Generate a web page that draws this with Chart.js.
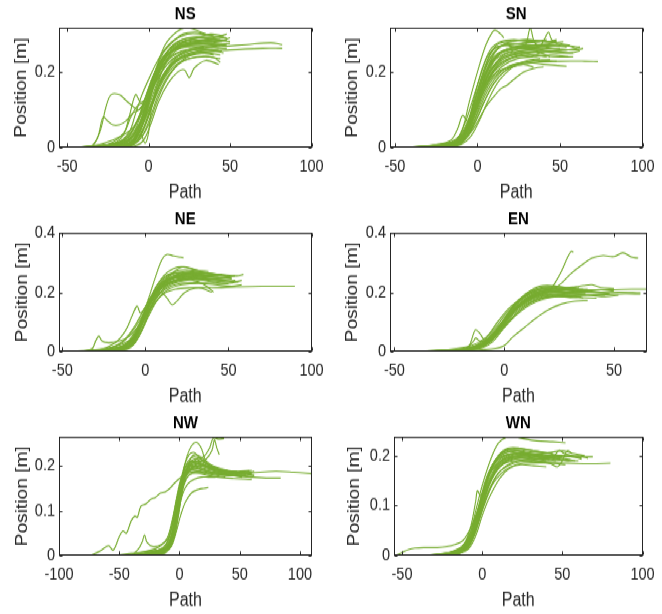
<!DOCTYPE html>
<html>
<head>
<meta charset="utf-8">
<script src="https://cdn.jsdelivr.net/npm/chart.js@4"></script>
<style>
  html, body { margin: 0; padding: 0; background: #fff; }
  #fig { position: absolute; left: 0; top: 0; width: 662px; height: 512px;
         transform: scaleY(1.2); transform-origin: 0 0; }
  #fig canvas { position: absolute; }
</style>
</head>
<body>
<div id="fig"></div>
<script>
// ---- data: each curve is a list of [path, position] points ----
const nsCurves = [
  [[-55,0],[-40,0.001],[-25,0.003],[-15,0.01],[-8,0.04],[-3,0.09],[2,0.15],[8,0.2],[15,0.235],[25,0.255],[40,0.265],[60,0.272],[75,0.277],[82,0.272]],
  [[-50,0],[-30,0.002],[-15,0.008],[-7,0.03],[-2,0.08],[3,0.13],[10,0.19],[18,0.23],[30,0.25],[50,0.258],[70,0.262],[82,0.262]],
  [[-45,0],[-25,0.002],[-12,0.01],[-6,0.05],[-1,0.12],[4,0.2],[10,0.27],[17,0.305],[23,0.317],[28,0.312],[35,0.3]],
  [[-48,0],[-35,0.005],[-30,0.04],[-26,0.11],[-23,0.14],[-18,0.14],[-14,0.125],[-10,0.11],[-6,0.1],[-3,0.12],[2,0.17],[8,0.22],[15,0.26],[25,0.28],[35,0.285],[47,0.29]],
  [[-45,0],[-35,0.003],[-31,0.03],[-28,0.08],[-25,0.07],[-22,0.06],[-18,0.06],[-14,0.07],[-10,0.09],[-6,0.1],[-2,0.12],[3,0.18],[10,0.24],[20,0.27],[30,0.275],[44,0.27]],
  [[-40,0],[-25,0.005],[-16,0.03],[-12,0.08],[-8,0.14],[-5,0.12],[-2,0.13],[2,0.18],[8,0.23],[15,0.26],[25,0.275],[38,0.28],[48,0.282]],
  [[-38,0],[-20,0.005],[-10,0.03],[-6,0.06],[-4,0.03],[-2,0.012],[0,0.04],[2,0.11],[6,0.17],[12,0.21],[20,0.235],[30,0.25],[45,0.255]],
  [[-42,0],[-20,0.002],[-8,0.005],[-3,0.02],[2,0.07],[6,0.12],[12,0.17],[18,0.2],[22,0.205],[25,0.185],[28,0.21],[35,0.23],[43,0.22]],
  [[-50,0],[-30,0.003],[-12,0.01],[-6,0.04],[-2,0.09],[3,0.16],[8,0.21],[14,0.25],[22,0.27],[35,0.28],[48,0.285]],
  [[-35,0],[-18,0.004],[-10,0.02],[-5,0.06],[0,0.12],[5,0.19],[11,0.24],[18,0.265],[28,0.28],[40,0.29],[48,0.3]],
  [[-30,0],[-15,0.003],[-8,0.015],[-3,0.05],[2,0.11],[7,0.17],[14,0.22],[22,0.245],[32,0.255],[43,0.26]],
  [[-48,0],[-30,0.004],[-18,0.01],[-10,0.03],[-5,0.07],[0,0.13],[6,0.2],[12,0.255],[18,0.28],[25,0.29],[35,0.29],[46,0.295]],
  [[-40,0],[-22,0.002],[-10,0.006],[-4,0.03],[1,0.08],[6,0.14],[12,0.19],[20,0.225],[30,0.24],[40,0.238],[44,0.225]],
  [[-55,0],[-38,0.001],[-20,0.004],[-10,0.015],[-4,0.06],[1,0.13],[6,0.2],[12,0.245],[20,0.265],[30,0.27],[42,0.268]],
  [[-33,0],[-20,0.01],[-12,0.04],[-8,0.09],[-4,0.14],[0,0.18],[5,0.225],[10,0.26],[16,0.285],[24,0.3],[32,0.3],[40,0.295]],
  [[-44,0],[-28,0.005],[-16,0.015],[-9,0.03],[-4,0.07],[1,0.14],[7,0.21],[14,0.255],[24,0.27],[36,0.275],[48,0.27]],
  [[-36,0],[-24,0.01],[-15,0.04],[-11,0.08],[-7,0.11],[-3,0.12],[1,0.16],[6,0.21],[13,0.25],[22,0.265],[34,0.265]],
  [[-52,0],[-35,0.002],[-15,0.006],[-6,0.02],[0,0.06],[5,0.12],[10,0.17],[16,0.21],[24,0.24],[34,0.25],[44,0.245]],
  [[-28,0],[-14,0.005],[-7,0.02],[-2,0.06],[3,0.12],[8,0.18],[15,0.23],[22,0.25],[30,0.26],[38,0.258]],
  [[-46,0],[-26,0.004],[-14,0.012],[-7,0.05],[-2,0.11],[4,0.19],[10,0.245],[16,0.275],[24,0.29],[36,0.295],[48,0.29]],
  [[-40,0],[-22,0.01],[-13,0.025],[-8,0.06],[-3,0.1],[2,0.15],[8,0.2],[15,0.235],[25,0.26],[37,0.27],[50,0.275]],
  [[-35,0],[-20,0.003],[-9,0.01],[-4,0.04],[0,0.09],[5,0.16],[11,0.23],[18,0.27],[26,0.285],[36,0.28],[45,0.28]],
  [[-42,0],[-28,0.006],[-18,0.015],[-11,0.04],[-6,0.08],[-2,0.13],[3,0.19],[9,0.24],[16,0.27],[24,0.285],[34,0.29],[44,0.285]],
  [[-38,0],[-24,0.003],[-14,0.008],[-8,0.025],[-3,0.065],[2,0.12],[7,0.17],[13,0.21],[20,0.24],[30,0.255],[42,0.26],[48,0.262]],
  [[-30,0],[-18,0.004],[-10,0.012],[-5,0.045],[-1,0.1],[4,0.17],[9,0.225],[15,0.26],[22,0.28],[30,0.29],[38,0.3],[46,0.295]],
  [[-46,0],[-32,0.006],[-22,0.02],[-15,0.035],[-10,0.05],[-6,0.08],[-2,0.12],[3,0.17],[9,0.215],[16,0.245],[26,0.26],[38,0.265],[48,0.275]],
  [[-36,0],[-22,0.004],[-12,0.01],[-6,0.03],[-1,0.075],[4,0.13],[10,0.185],[17,0.22],[25,0.235],[35,0.24],[44,0.235]],
  [[-50,0],[-35,0.004],[-20,0.012],[-12,0.03],[-7,0.07],[-3,0.12],[1,0.17],[6,0.22],[12,0.255],[20,0.275],[30,0.28],[40,0.285],[50,0.28]],
  [[-26,0],[-14,0.006],[-8,0.03],[-4,0.08],[0,0.14],[4,0.2],[9,0.25],[15,0.28],[21,0.3],[28,0.305],[35,0.3]],
  [[-44,0],[-30,0.005],[-20,0.01],[-13,0.02],[-8,0.05],[-4,0.095],[1,0.15],[6,0.2],[12,0.235],[20,0.255],[28,0.26],[38,0.258],[46,0.25]],
  [[-34,0],[-20,0.003],[-11,0.008],[-5,0.03],[0,0.085],[5,0.15],[10,0.2],[16,0.23],[24,0.245],[32,0.25],[40,0.245]],
  [[-48,0],[-30,0.004],[-17,0.01],[-9,0.025],[-4,0.06],[1,0.12],[7,0.19],[13,0.24],[20,0.265],[30,0.275],[42,0.278],[50,0.29]]
];

const snCurves = [
  [[-43,0],[-30,0.002],[-18,0.008],[-11,0.02],[-6,0.06],[-1,0.12],[5,0.17],[12,0.2],[22,0.215],[35,0.225],[50,0.228],[65,0.228],[73,0.227]],
  [[-40,0],[-25,0.005],[-14,0.015],[-9,0.05],[-5,0.12],[0,0.2],[5,0.27],[9,0.305],[11,0.31],[14,0.3],[16,0.29]],
  [[-42,0],[-26,0.004],[-14,0.012],[-8,0.04],[-3,0.1],[2,0.17],[8,0.22],[15,0.245],[24,0.26],[29,0.27],[32,0.315],[35,0.275],[42,0.265],[50,0.26],[60,0.258],[64,0.262]],
  [[-38,0],[-20,0.006],[-11,0.02],[-6,0.06],[-1,0.12],[4,0.19],[10,0.24],[18,0.26],[28,0.265],[38,0.27],[41,0.29],[43,0.305],[45,0.285],[50,0.27],[56,0.268],[60,0.26]],
  [[-45,0],[-28,0.003],[-15,0.01],[-9,0.03],[-4,0.08],[1,0.14],[7,0.2],[14,0.235],[24,0.25],[36,0.255],[48,0.25],[58,0.25]],
  [[-35,0],[-20,0.005],[-12,0.015],[-7,0.05],[-2,0.12],[3,0.19],[9,0.245],[16,0.27],[26,0.275],[36,0.28],[48,0.28]],
  [[-40,0],[-25,0.008],[-16,0.02],[-12,0.05],[-9,0.085],[-6,0.07],[-3,0.09],[1,0.13],[6,0.18],[13,0.22],[22,0.24],[32,0.245],[42,0.24]],
  [[-38,0],[-22,0.004],[-12,0.01],[-6,0.03],[-1,0.06],[4,0.1],[9,0.13],[14,0.155],[18,0.165],[22,0.18],[28,0.2],[35,0.21],[40,0.213]],
  [[-44,0],[-30,0.002],[-15,0.008],[-10,0.03],[-6,0.03],[-2,0.07],[3,0.13],[9,0.18],[17,0.21],[27,0.225],[40,0.22],[54,0.215]],
  [[-30,0],[-18,0.005],[-11,0.015],[-5,0.05],[0,0.11],[5,0.18],[11,0.235],[18,0.26],[28,0.27],[40,0.268],[52,0.27],[62,0.265]],
  [[-42,0],[-24,0.006],[-12,0.012],[-7,0.04],[-2,0.1],[3,0.16],[9,0.21],[16,0.24],[26,0.255],[38,0.26],[50,0.262]],
  [[-32,0],[-18,0.004],[-10,0.01],[-5,0.045],[-1,0.11],[4,0.2],[8,0.25],[13,0.275],[20,0.28],[30,0.285],[42,0.28],[48,0.285]],
  [[-36,0],[-22,0.006],[-13,0.015],[-8,0.04],[-3,0.085],[2,0.14],[8,0.19],[15,0.225],[24,0.24],[34,0.245],[46,0.24],[58,0.24]],
  [[-40,0],[-25,0.003],[-12,0.008],[-6,0.03],[0,0.08],[5,0.13],[10,0.17],[16,0.2],[22,0.215],[28,0.22],[34,0.212]],
  [[-28,0],[-16,0.006],[-9,0.02],[-4,0.07],[1,0.14],[6,0.21],[12,0.26],[20,0.28],[30,0.285],[40,0.28],[50,0.275],[56,0.27]],
  [[-44,0],[-30,0.004],[-18,0.012],[-10,0.025],[-5,0.065],[0,0.13],[6,0.2],[13,0.245],[22,0.26],[34,0.265],[46,0.26],[54,0.258]],
  [[-34,0],[-20,0.005],[-11,0.012],[-6,0.035],[-1,0.09],[4,0.15],[10,0.2],[18,0.23],[26,0.245],[32,0.24],[38,0.25],[44,0.24]],
  [[-38,0],[-24,0.006],[-13,0.02],[-8,0.06],[-4,0.11],[1,0.18],[6,0.24],[11,0.265],[18,0.27],[28,0.275],[38,0.28]],
  [[-45,0],[-28,0.005],[-14,0.012],[-7,0.035],[-2,0.09],[3,0.155],[9,0.21],[16,0.245],[25,0.255],[35,0.26],[45,0.255],[58,0.26],[62,0.265]],
  [[-30,0],[-18,0.003],[-10,0.008],[-4,0.03],[1,0.07],[6,0.12],[12,0.17],[18,0.2],[24,0.22],[30,0.23],[38,0.235]],
  [[-36,0],[-22,0.004],[-12,0.01],[-7,0.04],[-3,0.1],[2,0.17],[7,0.23],[13,0.265],[20,0.275],[30,0.27],[40,0.272],[50,0.268]],
  [[-42,0],[-26,0.004],[-14,0.01],[-8,0.03],[-3,0.075],[2,0.13],[8,0.18],[15,0.215],[24,0.235],[34,0.24],[44,0.245],[55,0.24]],
  [[-28,0],[-17,0.005],[-10,0.02],[-6,0.06],[-2,0.13],[3,0.21],[8,0.26],[14,0.28],[22,0.285],[32,0.28],[42,0.285]],
  [[-40,0],[-25,0.006],[-14,0.015],[-8,0.045],[-3,0.095],[2,0.15],[8,0.2],[14,0.23],[22,0.245],[32,0.25],[44,0.255],[56,0.25],[62,0.255]],
  [[-33,0],[-20,0.004],[-11,0.01],[-6,0.03],[-1,0.07],[4,0.12],[10,0.17],[16,0.2],[24,0.22],[34,0.23],[44,0.232]],
  [[-44,0],[-28,0.005],[-16,0.015],[-10,0.035],[-5,0.08],[0,0.15],[5,0.22],[10,0.26],[16,0.27],[24,0.265],[34,0.27],[46,0.27],[54,0.265]],
  [[-38,0],[-23,0.003],[-13,0.01],[-7,0.035],[-2,0.085],[3,0.145],[9,0.2],[16,0.235],[26,0.25],[36,0.252],[48,0.255]],
  [[-30,0],[-18,0.006],[-10,0.018],[-5,0.055],[0,0.12],[5,0.19],[10,0.235],[16,0.255],[24,0.26],[32,0.262],[40,0.26]],
  [[-46,0],[-30,0.003],[-16,0.008],[-9,0.02],[-4,0.05],[1,0.1],[6,0.15],[12,0.19],[19,0.215],[28,0.225],[38,0.23],[48,0.228]],
  [[-35,0],[-21,0.005],[-12,0.015],[-6,0.05],[-1,0.11],[4,0.18],[9,0.23],[15,0.255],[23,0.265],[33,0.27],[45,0.275],[52,0.28]]
];

const neCurves = [
  [[-48,0],[-35,0.003],[-20,0.008],[-12,0.02],[-6,0.05],[-1,0.1],[4,0.15],[10,0.19],[18,0.21],[28,0.215],[40,0.215],[55,0.218],[70,0.22],[90,0.22]],
  [[-40,0],[-25,0.004],[-14,0.01],[-8,0.04],[-3,0.1],[2,0.18],[6,0.25],[10,0.31],[13,0.327],[17,0.322],[21,0.318],[23,0.316]],
  [[-42,0],[-28,0.005],[-18,0.03],[-12,0.07],[-8,0.12],[-5,0.153],[-3,0.13],[0,0.15],[5,0.2],[12,0.24],[20,0.255],[30,0.26],[40,0.255]],
  [[-38,0],[-32,0.01],[-30,0.035],[-28,0.052],[-26,0.035],[-22,0.03],[-16,0.035],[-10,0.05],[-5,0.08],[0,0.13],[6,0.19],[13,0.23],[22,0.245],[32,0.25],[46,0.258]],
  [[-45,0],[-30,0.004],[-16,0.012],[-9,0.035],[-4,0.08],[1,0.14],[7,0.2],[14,0.24],[22,0.26],[32,0.265],[45,0.26],[55,0.255],[59,0.26]],
  [[-35,0],[-20,0.005],[-11,0.02],[-6,0.06],[-1,0.12],[4,0.17],[9,0.2],[13,0.18],[16,0.158],[19,0.17],[24,0.2],[32,0.215],[40,0.2]],
  [[-50,0],[-35,0.002],[-18,0.006],[-10,0.015],[-5,0.05],[0,0.12],[6,0.19],[12,0.24],[18,0.27],[24,0.275],[32,0.27],[42,0.26],[50,0.255]],
  [[-30,0],[-18,0.004],[-10,0.015],[-5,0.06],[0,0.13],[5,0.2],[11,0.255],[17,0.28],[23,0.285],[30,0.275],[38,0.27]],
  [[-40,0],[-24,0.006],[-13,0.02],[-7,0.05],[-2,0.1],[3,0.16],[9,0.21],[16,0.235],[26,0.245],[38,0.24],[50,0.235],[54,0.24]],
  [[-36,0],[-22,0.01],[-14,0.03],[-9,0.06],[-4,0.1],[1,0.15],[7,0.2],[14,0.23],[22,0.245],[32,0.235],[38,0.215],[41,0.2]],
  [[-44,0],[-28,0.005],[-15,0.015],[-8,0.04],[-3,0.09],[2,0.15],[8,0.21],[15,0.25],[24,0.265],[34,0.26],[44,0.255]],
  [[-33,0],[-20,0.008],[-12,0.025],[-7,0.06],[-2,0.11],[3,0.17],[9,0.22],[16,0.245],[25,0.25],[36,0.245],[48,0.24]],
  [[-46,0],[-30,0.003],[-15,0.008],[-8,0.02],[-3,0.06],[2,0.12],[8,0.18],[14,0.21],[22,0.225],[32,0.23],[42,0.225],[52,0.22],[58,0.225]],
  [[-38,0],[-22,0.004],[-12,0.012],[-6,0.045],[-1,0.11],[4,0.18],[10,0.24],[16,0.265],[22,0.285],[28,0.28],[36,0.265],[44,0.26]],
  [[-28,0],[-16,0.005],[-9,0.02],[-4,0.07],[1,0.14],[6,0.2],[12,0.235],[20,0.25],[30,0.255],[42,0.25],[52,0.245]],
  [[-42,0],[-26,0.006],[-16,0.015],[-10,0.03],[-5,0.07],[0,0.13],[6,0.19],[13,0.225],[21,0.24],[30,0.245],[40,0.235],[50,0.23],[58,0.24]],
  [[-34,0],[-20,0.003],[-10,0.01],[-5,0.04],[0,0.1],[5,0.17],[11,0.225],[18,0.25],[27,0.26],[37,0.255],[46,0.26]],
  [[-40,0],[-26,0.005],[-15,0.015],[-8,0.045],[-3,0.1],[2,0.16],[8,0.215],[15,0.245],[23,0.255],[33,0.25],[43,0.245],[52,0.25]],
  [[-30,0],[-18,0.006],[-10,0.02],[-5,0.065],[0,0.135],[5,0.195],[10,0.235],[16,0.26],[24,0.27],[34,0.265],[42,0.26]],
  [[-44,0],[-30,0.004],[-18,0.01],[-10,0.025],[-5,0.06],[0,0.115],[6,0.175],[12,0.21],[20,0.228],[30,0.232],[40,0.23],[50,0.228]],
  [[-36,0],[-22,0.006],[-12,0.018],[-7,0.05],[-2,0.11],[3,0.175],[9,0.225],[15,0.25],[22,0.26],[30,0.258],[38,0.255]],
  [[-48,0],[-34,0.004],[-22,0.012],[-14,0.025],[-8,0.045],[-3,0.085],[2,0.14],[8,0.195],[15,0.225],[24,0.24],[36,0.245],[48,0.24],[56,0.235]],
  [[-26,0],[-15,0.005],[-8,0.025],[-4,0.075],[1,0.15],[6,0.215],[11,0.25],[17,0.265],[24,0.262],[32,0.255]],
  [[-38,0],[-24,0.008],[-16,0.025],[-11,0.05],[-6,0.09],[-1,0.14],[4,0.19],[10,0.225],[18,0.24],[28,0.245],[38,0.24]],
  [[-42,0],[-28,0.003],[-14,0.008],[-7,0.03],[-2,0.08],[3,0.14],[9,0.2],[16,0.235],[24,0.25],[34,0.255],[44,0.25],[54,0.255]]
];

const enCurves = [
  [[-44,0],[-30,0.003],[-18,0.01],[-10,0.03],[-4,0.07],[1,0.11],[6,0.15],[12,0.18],[17,0.195],[20,0.2],[23,0.23],[26,0.27],[29,0.32],[30.5,0.338],[31.5,0.335]],
  [[-40,0],[-25,0.004],[-14,0.012],[-8,0.04],[-2,0.09],[4,0.14],[10,0.18],[16,0.2],[22,0.21],[26,0.23],[30,0.26],[35,0.29],[40,0.315],[45,0.323],[50,0.32],[54,0.333],[58,0.318],[61,0.315]],
  [[-46,0],[-30,0.002],[-18,0.006],[-10,0.02],[-5,0.05],[0,0.1],[6,0.15],[12,0.185],[18,0.2],[26,0.205],[36,0.208],[48,0.208],[58,0.21],[65,0.21]],
  [[-38,0],[-24,0.004],[-14,0.01],[-7,0.03],[-2,0.07],[3,0.11],[9,0.15],[15,0.175],[22,0.185],[32,0.19],[45,0.192],[55,0.195],[62,0.194]],
  [[-30,0],[-20,0.005],[-16,0.02],[-14,0.06],[-13,0.074],[-11,0.06],[-9,0.04],[-6,0.05],[-2,0.08],[3,0.13],[9,0.17],[15,0.2],[22,0.21],[30,0.21]],
  [[-28,0],[-18,0.008],[-14,0.035],[-13,0.046],[-11,0.035],[-7,0.04],[-3,0.07],[2,0.12],[8,0.16],[14,0.19],[22,0.205],[32,0.21],[38,0.21]],
  [[-35,0],[-20,0.003],[-10,0.006],[-4,0.01],[0,0.02],[4,0.05],[9,0.08],[14,0.11],[20,0.14],[26,0.16],[32,0.17],[38,0.172]],
  [[-42,0],[-28,0.004],[-16,0.012],[-9,0.04],[-4,0.08],[1,0.13],[7,0.175],[13,0.205],[18,0.218],[24,0.22],[30,0.215],[36,0.222],[40,0.225],[44,0.215],[50,0.212]],
  [[-36,0],[-22,0.005],[-12,0.015],[-6,0.045],[-1,0.1],[4,0.15],[10,0.19],[16,0.21],[22,0.215],[30,0.212],[36,0.21]],
  [[-32,0],[-18,0.004],[-10,0.012],[-5,0.035],[0,0.08],[5,0.12],[11,0.155],[17,0.175],[24,0.185],[30,0.182],[35,0.185]],
  [[-40,0],[-26,0.006],[-15,0.02],[-8,0.05],[-3,0.1],[2,0.145],[8,0.18],[14,0.2],[20,0.207],[28,0.2],[36,0.205],[42,0.2]],
  [[-30,0],[-18,0.006],[-9,0.02],[-4,0.06],[1,0.11],[6,0.16],[12,0.195],[18,0.212],[25,0.21],[32,0.205],[38,0.2]],
  [[-44,0],[-28,0.004],[-16,0.01],[-9,0.03],[-4,0.065],[1,0.11],[7,0.155],[13,0.18],[20,0.192],[28,0.195],[36,0.2],[45,0.198],[52,0.2],[62,0.198]],
  [[-34,0],[-20,0.005],[-11,0.015],[-6,0.04],[-1,0.09],[5,0.145],[11,0.185],[17,0.205],[23,0.21],[30,0.205],[35,0.2]],
  [[-38,0],[-24,0.003],[-13,0.01],[-7,0.03],[-2,0.07],[3,0.12],[9,0.165],[15,0.19],[22,0.2],[30,0.195],[37,0.195]],
  [[-26,0],[-16,0.006],[-9,0.025],[-5,0.06],[0,0.11],[5,0.16],[11,0.2],[16,0.22],[22,0.222],[28,0.215],[33,0.218]],
  [[-42,0],[-26,0.004],[-14,0.012],[-7,0.035],[-2,0.08],[3,0.125],[9,0.16],[15,0.18],[22,0.19],[30,0.188],[38,0.19],[46,0.185],[52,0.19]],
  [[-36,0],[-22,0.005],[-13,0.015],[-7,0.04],[-2,0.085],[3,0.13],[9,0.17],[15,0.195],[22,0.205],[30,0.2],[38,0.205],[44,0.2]],
  [[-40,0],[-26,0.004],[-15,0.012],[-8,0.035],[-3,0.075],[2,0.12],[8,0.16],[14,0.185],[21,0.195],[28,0.19],[36,0.192],[46,0.19]],
  [[-28,0],[-17,0.006],[-9,0.025],[-4,0.065],[1,0.12],[6,0.17],[12,0.205],[18,0.215],[25,0.212],[32,0.21],[40,0.205]],
  [[-44,0],[-30,0.003],[-17,0.01],[-10,0.025],[-5,0.055],[0,0.1],[6,0.145],[12,0.175],[19,0.19],[27,0.195],[36,0.2],[44,0.2],[50,0.205]],
  [[-32,0],[-19,0.005],[-10,0.015],[-5,0.045],[0,0.095],[5,0.14],[11,0.175],[17,0.195],[24,0.2],[32,0.198],[40,0.2],[48,0.195]],
  [[-38,0],[-24,0.004],[-13,0.012],[-7,0.03],[-2,0.065],[3,0.11],[9,0.15],[15,0.175],[22,0.188],[30,0.19],[36,0.18]],
  [[-30,0],[-18,0.005],[-10,0.018],[-5,0.05],[0,0.105],[5,0.155],[11,0.195],[17,0.21],[24,0.215],[30,0.21],[34,0.215]],
  [[-46,0],[-32,0.003],[-20,0.008],[-12,0.02],[-6,0.045],[-1,0.085],[4,0.125],[10,0.16],[17,0.18],[25,0.185],[34,0.182],[42,0.18]]
];

const nwCurves = [
  [[-74,0],[-66,0.01],[-59,0.022],[-55,0.012],[-50,0.042],[-47,0.055],[-44,0.05],[-40,0.078],[-37,0.088],[-35,0.085],[-32,0.11],[-28,0.115],[-24,0.125],[-20,0.13],[-16,0.139],[-12,0.142],[-8,0.15],[-4,0.162],[0,0.172],[4,0.18],[8,0.19],[14,0.2],[20,0.2],[28,0.19],[36,0.185],[45,0.18],[55,0.18]],
  [[-54,0],[-40,0.005],[-25,0.01],[-15,0.015],[-9,0.03],[-5,0.07],[-1,0.13],[3,0.17],[8,0.185],[15,0.185],[25,0.183],[40,0.182],[60,0.185],[80,0.188],[95,0.186],[110,0.183]],
  [[-45,0],[-30,0.004],[-20,0.01],[-12,0.02],[-7,0.06],[-3,0.12],[1,0.17],[6,0.2],[12,0.2],[20,0.19],[30,0.185],[45,0.178],[60,0.175],[75,0.173],[84,0.173]],
  [[-40,0],[-34,0.015],[-31,0.03],[-29,0.046],[-27,0.03],[-22,0.02],[-15,0.025],[-10,0.04],[-6,0.08],[-2,0.13],[2,0.17],[7,0.195],[14,0.2],[22,0.19],[35,0.18],[50,0.178],[62,0.18]],
  [[-30,0],[-18,0.005],[-10,0.015],[-6,0.05],[-2,0.11],[2,0.17],[6,0.22],[10,0.245],[14,0.253],[18,0.24],[22,0.21],[28,0.195],[38,0.19],[50,0.185],[60,0.18]],
  [[-25,0],[-15,0.005],[-8,0.02],[-4,0.06],[0,0.12],[4,0.17],[8,0.2],[14,0.215],[20,0.22],[25,0.24],[28,0.262],[32,0.26],[37,0.261]],
  [[-35,0],[-20,0.006],[-12,0.015],[-7,0.04],[-3,0.09],[1,0.15],[5,0.19],[10,0.205],[16,0.21],[22,0.215],[27,0.235],[29,0.258],[31,0.24],[33,0.225]],
  [[-38,0],[-24,0.004],[-14,0.01],[-8,0.03],[-4,0.07],[0,0.13],[4,0.175],[9,0.195],[16,0.2],[25,0.195],[35,0.19],[48,0.185],[60,0.19]],
  [[-28,0],[-16,0.006],[-9,0.02],[-5,0.05],[-1,0.1],[3,0.14],[7,0.16],[12,0.17],[18,0.175],[24,0.175],[30,0.175]],
  [[-32,0],[-20,0.004],[-12,0.01],[-7,0.02],[-3,0.05],[1,0.09],[5,0.12],[10,0.14],[16,0.148],[20,0.15],[24,0.152]],
  [[-42,0],[-28,0.006],[-18,0.012],[-10,0.02],[-6,0.045],[-2,0.1],[2,0.16],[6,0.195],[11,0.21],[18,0.205],[28,0.195],[40,0.185],[52,0.183]],
  [[-20,0],[-12,0.005],[-6,0.025],[-2,0.07],[2,0.14],[6,0.19],[10,0.22],[14,0.225],[20,0.215],[28,0.2],[40,0.19],[55,0.185],[62,0.188]],
  [[-36,0],[-22,0.005],[-14,0.01],[-8,0.025],[-4,0.065],[0,0.12],[4,0.16],[8,0.18],[14,0.185],[22,0.18],[32,0.175],[45,0.172],[60,0.17]],
  [[-26,0],[-16,0.004],[-9,0.015],[-5,0.04],[-1,0.1],[3,0.16],[7,0.2],[12,0.215],[18,0.21],[26,0.2],[36,0.19],[48,0.188],[58,0.19]],
  [[-48,0],[-32,0.003],[-20,0.008],[-12,0.015],[-7,0.03],[-3,0.08],[1,0.14],[5,0.18],[10,0.19],[18,0.188],[30,0.182],[44,0.178],[55,0.18]],
  [[-22,0],[-13,0.006],[-7,0.03],[-3,0.09],[1,0.16],[4,0.2],[8,0.225],[12,0.23],[16,0.22],[22,0.205],[30,0.195],[40,0.19]],
  [[-34,0],[-22,0.005],[-13,0.012],[-8,0.03],[-4,0.075],[0,0.14],[4,0.19],[9,0.21],[15,0.205],[24,0.195],[34,0.188],[46,0.185],[58,0.185]],
  [[-44,0],[-30,0.004],[-18,0.01],[-10,0.02],[-6,0.05],[-2,0.11],[2,0.165],[6,0.19],[12,0.195],[20,0.19],[30,0.185],[42,0.18],[52,0.175]],
  [[-24,0],[-15,0.006],[-8,0.025],[-4,0.07],[0,0.135],[4,0.18],[9,0.2],[15,0.205],[22,0.2],[32,0.19],[44,0.185],[56,0.182],[62,0.178]],
  [[-38,0],[-25,0.004],[-15,0.01],[-9,0.025],[-5,0.06],[-1,0.12],[3,0.17],[7,0.19],[13,0.19],[20,0.185],[28,0.18],[38,0.175]],
  [[-30,0],[-18,0.005],[-10,0.018],[-6,0.045],[-2,0.1],[2,0.155],[6,0.185],[11,0.195],[18,0.195],[27,0.19],[38,0.183],[50,0.18],[60,0.175]],
  [[-46,0],[-30,0.008],[-20,0.015],[-14,0.025],[-9,0.04],[-5,0.08],[-1,0.14],[3,0.18],[8,0.2],[14,0.21],[22,0.2],[32,0.19],[42,0.185]],
  [[-28,0],[-17,0.004],[-10,0.012],[-5,0.04],[-1,0.09],[3,0.15],[7,0.185],[12,0.2],[18,0.205],[26,0.195],[36,0.19],[48,0.185],[60,0.183]],
  [[-40,0],[-26,0.006],[-16,0.014],[-10,0.03],[-6,0.065],[-2,0.12],[2,0.175],[7,0.21],[12,0.22],[18,0.215],[26,0.2],[36,0.19],[48,0.188]]
];

const wnCurves = [
  [[-54,0],[-50,0.006],[-46,0.012],[-42,0.015],[-35,0.016],[-28,0.016],[-22,0.018],[-17,0.022],[-12,0.03],[-8,0.05],[-4,0.08],[0,0.11],[4,0.14],[9,0.17],[15,0.19],[22,0.2],[30,0.2],[40,0.198],[50,0.2]],
  [[-30,0],[-20,0.004],[-12,0.01],[-7,0.03],[-3,0.06],[1,0.1],[6,0.14],[12,0.165],[18,0.178],[26,0.185],[38,0.186],[52,0.185],[68,0.184],[80,0.185]],
  [[-35,0],[-22,0.004],[-13,0.012],[-8,0.04],[-4,0.09],[0,0.14],[5,0.19],[10,0.225],[15,0.237],[20,0.238],[26,0.234],[34,0.23],[44,0.228],[52,0.226]],
  [[-28,0],[-18,0.006],[-11,0.025],[-7,0.06],[-4,0.11],[-3,0.13],[-1,0.12],[2,0.14],[6,0.17],[12,0.195],[20,0.205],[30,0.205],[42,0.2],[50,0.198]],
  [[-32,0],[-20,0.005],[-12,0.015],[-7,0.04],[-3,0.08],[1,0.12],[6,0.16],[12,0.19],[18,0.2],[26,0.205],[36,0.2],[48,0.2],[58,0.198],[69,0.198]],
  [[-26,0],[-16,0.005],[-10,0.02],[-5,0.055],[-1,0.1],[4,0.15],[10,0.185],[16,0.2],[24,0.205],[32,0.2],[40,0.195],[45,0.2],[48,0.211],[51,0.205],[56,0.2],[62,0.193]],
  [[-30,0],[-18,0.004],[-10,0.012],[-5,0.04],[-1,0.085],[4,0.13],[10,0.165],[16,0.18],[24,0.188],[34,0.19],[42,0.185],[47,0.178],[50,0.19],[53,0.21],[56,0.205]],
  [[-24,0],[-14,0.006],[-8,0.025],[-4,0.07],[0,0.12],[4,0.165],[9,0.195],[15,0.21],[22,0.212],[30,0.208],[40,0.205],[50,0.2],[60,0.2],[66,0.195]],
  [[-36,0],[-22,0.005],[-14,0.01],[-9,0.025],[-5,0.06],[-1,0.1],[4,0.145],[10,0.175],[17,0.19],[25,0.195],[35,0.19],[45,0.19],[55,0.192]],
  [[-20,0],[-12,0.008],[-7,0.03],[-3,0.08],[1,0.13],[5,0.17],[10,0.2],[15,0.212],[22,0.21],[30,0.205],[38,0.2]],
  [[-28,0],[-17,0.004],[-9,0.012],[-4,0.04],[0,0.08],[5,0.12],[11,0.155],[17,0.175],[24,0.182],[32,0.18],[40,0.178]],
  [[-34,0],[-21,0.006],[-12,0.02],[-7,0.05],[-2,0.1],[3,0.155],[8,0.19],[14,0.205],[22,0.21],[32,0.2],[42,0.195],[52,0.19],[60,0.19]],
  [[-22,0],[-14,0.005],[-8,0.02],[-4,0.05],[0,0.095],[4,0.14],[9,0.175],[15,0.195],[22,0.2],[30,0.198],[38,0.195],[46,0.19]],
  [[-30,0],[-19,0.007],[-11,0.02],[-6,0.05],[-2,0.1],[2,0.15],[7,0.185],[13,0.2],[20,0.205],[30,0.2],[40,0.205],[50,0.21],[56,0.205],[64,0.2]],
  [[-26,0],[-16,0.004],[-9,0.015],[-5,0.045],[-1,0.09],[3,0.13],[8,0.165],[14,0.185],[22,0.19],[32,0.188],[44,0.185],[52,0.182]],
  [[-32,0],[-20,0.006],[-12,0.018],[-7,0.045],[-3,0.09],[1,0.135],[6,0.17],[12,0.19],[19,0.198],[28,0.2],[38,0.198],[48,0.195]],
  [[-26,0],[-16,0.005],[-9,0.02],[-5,0.055],[-1,0.105],[3,0.15],[8,0.185],[14,0.2],[22,0.205],[30,0.2],[40,0.198],[50,0.195],[58,0.19]],
  [[-36,0],[-23,0.004],[-13,0.012],[-7,0.035],[-3,0.075],[2,0.12],[7,0.16],[13,0.185],[20,0.195],[30,0.195],[42,0.192]],
  [[-22,0],[-13,0.007],[-7,0.03],[-3,0.075],[1,0.125],[5,0.17],[10,0.2],[16,0.215],[24,0.215],[32,0.21],[42,0.205]],
  [[-30,0],[-18,0.005],[-10,0.015],[-5,0.04],[-1,0.08],[4,0.125],[9,0.16],[15,0.18],[22,0.19],[32,0.193],[44,0.195],[54,0.19]],
  [[-28,0],[-17,0.006],[-9,0.022],[-5,0.06],[0,0.115],[5,0.165],[10,0.195],[16,0.208],[24,0.205],[34,0.2],[46,0.2],[56,0.198],[62,0.196]],
  [[-34,0],[-21,0.004],[-12,0.012],[-6,0.035],[-2,0.08],[3,0.13],[8,0.17],[14,0.19],[22,0.198],[32,0.195],[40,0.19]],
  [[-24,0],[-15,0.005],[-8,0.02],[-4,0.06],[0,0.11],[4,0.16],[9,0.195],[14,0.21],[20,0.215],[28,0.212],[36,0.208],[44,0.205]]
];

// axis ranges and tick values
const nsX = [-55, 100], snX = [-53, 100], neX = [-52, 100], enX = [-52, 65], nwX = [-100, 110], wnX = [-55, 100];
const nsY = [0, 0.317], snY = [0, 0.317], neY = [0, 0.4], enY = [0, 0.4], nwY = [0, 0.265], wnY = [0, 0.238];
const xTicksStd = [-50, 0, 50, 100];
const xTicksEN = [-50, 0, 50];
const xTicksNW = [-100, -50, 0, 50, 100];
const yTicksA = [0, 0.2];
const yTicksB = [0, 0.2, 0.4];
const yTicksC = [0, 0.1, 0.2];

// ---- layout / styling ----
const STRETCH = 1.2;          // the original figure is vertically stretched
const GREEN = "rgb(119,172,48)";
const INK = "#262626";
const FONT = "'Liberation Sans', Arial, Helvetica, sans-serif";
const COL_W = 331;
const TITLE_BLOCK = 22;
const XAXIS_H = 47;

const panels = [
  { title: "NS", curves: nsCurves, xr: nsX, yr: nsY, xt: xTicksStd, yt: yTicksA, box: [59, 28, 312, 147], labelX: 22, col: 0 },
  { title: "SN", curves: snCurves, xr: snX, yr: snY, xt: xTicksStd, yt: yTicksA, box: [390, 28, 646, 147], labelX: 352.5, col: 1 },
  { title: "NE", curves: neCurves, xr: neX, yr: neY, xt: xTicksStd, yt: yTicksB, box: [59, 233, 312, 352], labelX: 22.5, col: 0 },
  { title: "EN", curves: enCurves, xr: enX, yr: enY, xt: xTicksEN, yt: yTicksB, box: [390, 233, 647, 352], labelX: 352.5, col: 1 },
  { title: "NW", curves: nwCurves, xr: nwX, yr: nwY, xt: xTicksNW, yt: yTicksC, box: [59, 437, 312, 556], labelX: 23, col: 0 },
  { title: "WN", curves: wnCurves, xr: wnX, yr: wnY, xt: xTicksStd, yt: yTicksC, box: [394, 437, 646, 556], labelX: 355, col: 1 }
];

// MATLAB-like box with inward ticks on all four sides
const boxOutline = {
  id: "boxOutline",
  afterDatasetsDraw(chart) {
    const { ctx, chartArea: a, scales: { x, y } } = chart;
    const l = Math.round(a.left) + 0.5, r = Math.round(a.right) - 0.5;
    const t = Math.round(a.top) + 0.5, b = Math.round(a.bottom) - 0.5;
    ctx.save();
    ctx.strokeStyle = INK;
    ctx.lineWidth = 1;
    ctx.strokeRect(l, t, r - l, b - t);
    ctx.beginPath();
    x.ticks.forEach(tk => {
      const px = Math.round(x.getPixelForValue(tk.value)) + 0.5;
      ctx.moveTo(px, b); ctx.lineTo(px, b - 3);
      ctx.moveTo(px, t); ctx.lineTo(px, t + 3);
    });
    y.ticks.forEach(tk => {
      const py = Math.round(y.getPixelForValue(tk.value)) + 0.5;
      ctx.moveTo(l, py); ctx.lineTo(l + 3, py);
      ctx.moveTo(r, py); ctx.lineTo(r - 3, py);
    });
    ctx.stroke();
    ctx.restore();
  }
};

const fig = document.getElementById("fig");

panels.forEach(p => {
  const [bl, bt, br, bb] = p.box;
  const colLeft = p.col * COL_W;
  const boxTop = Math.round(bt / STRETCH);
  const boxBottom = Math.round(bb / STRETCH);
  const canvasTop = boxTop - TITLE_BLOCK;
  const canvasH = boxBottom + XAXIS_H - canvasTop;
  const padLeft = p.labelX - colLeft - 9.6;
  const yAxisW = (bl - colLeft) - padLeft;
  const padRight = COL_W - (br - colLeft);

  const canvas = document.createElement("canvas");
  canvas.width = COL_W;
  canvas.height = canvasH;
  canvas.style.left = colLeft + "px";
  canvas.style.top = canvasTop + "px";
  fig.appendChild(canvas);

  new Chart(canvas, {
    type: "line",
    data: {
      datasets: p.curves.map(c => ({
        data: c.map(([x, y]) => ({ x, y })),
        borderColor: GREEN,
        borderWidth: 1.1,
        pointRadius: 0,
        tension: 0.35,
        fill: false
      }))
    },
    options: {
      responsive: false,
      animation: false,
      events: [],
      layout: { padding: { left: padLeft, right: padRight, top: 0, bottom: 0 } },
      plugins: {
        legend: { display: false },
        tooltip: { enabled: false },
        title: {
          display: true,
          text: p.title,
          fullSize: false,
          color: "#000",
          font: { family: FONT, size: 15, weight: "bold", lineHeight: 1.2 },
          padding: { top: 1.4, bottom: 2.6 }
        }
      },
      scales: {
        x: {
          type: "linear",
          min: p.xr[0],
          max: p.xr[1],
          grid: { display: false, drawTicks: false },
          border: { display: false },
          afterBuildTicks: s => { s.ticks = p.xt.map(v => ({ value: v })); },
          afterFit: s => { s.height = XAXIS_H; },
          ticks: { color: INK, padding: 7.4, maxRotation: 0, font: { family: FONT, size: 14.5 }, callback: v => String(v) },
          title: { display: true, text: "Path", color: INK, padding: 0, font: { family: FONT, size: 16, lineHeight: 1.2 } }
        },
        y: {
          min: p.yr[0],
          max: p.yr[1],
          grid: { display: false, drawTicks: false },
          border: { display: false },
          afterBuildTicks: s => { s.ticks = p.yt.map(v => ({ value: v })); },
          afterFit: s => { s.width = yAxisW; },
          ticks: { color: INK, padding: 4, font: { family: FONT, size: 14.5 }, callback: v => String(v) },
          title: { display: true, text: "Position [m]", color: INK, padding: 0, font: { family: FONT, size: 16, lineHeight: 1.2 } }
        }
      }
    },
    plugins: [boxOutline]
  });
});
</script>
</body>
</html>
